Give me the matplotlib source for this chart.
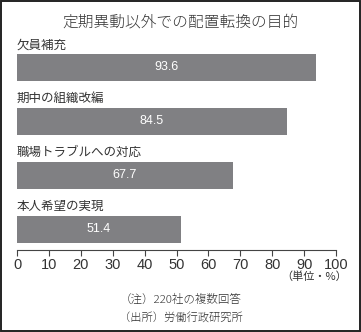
import matplotlib.pyplot as plt
from matplotlib.patches import Rectangle

categories = ['欠員補充', '期中の組織改編', '職場トラブルへの対応', '本人希望の実現']
values = [93.6, 84.5, 67.7, 51.4]
ticks = list(range(0, 101, 10))

title = '定期異動以外での配置転換の目的'
unit = '（単位・%）'
note = '（注）220社の複数回答'
source = '（出所）労働行政研究所'

jp = ['Noto Sans CJK JP', 'DejaVu Sans']
num = ['Liberation Sans', 'DejaVu Sans']
bar_color = '#808083'
text_color = '#333333'

fig = plt.figure(figsize=(3.61, 3.32), dpi=100)
fig.patches.append(Rectangle((0.004, 0.004), 0.992, 0.992, transform=fig.transFigure,
                             fill=False, edgecolor='#222222', linewidth=1.4))

ax = fig.add_axes([0.0471, 0.247, 0.8837, 0.6476])
ypos = list(range(len(categories)))
ax.barh(ypos, values, height=0.5, color=bar_color)
for y, cat, v in zip(ypos, categories, values):
    ax.text(0, y - 0.42, cat, family=jp, fontsize=9, color=text_color,
            ha='left', va='center')
    ax.text(v / 2, y, f'{v:.1f}', family=num, fontsize=9, color='white',
            ha='center', va='center')

ax.set_xlim(0, 100)
ax.set_ylim(len(categories) - 1 + 0.38, -0.6)
ax.set_xticks(ticks)
ax.set_xticklabels([str(t) for t in ticks], family=num, fontsize=10.5, color=text_color)
ax.tick_params(axis='x', length=4, width=0.8, color='#444444', pad=1.5)
ax.set_yticks([])
for side in ['top', 'right', 'left']:
    ax.spines[side].set_visible(False)
ax.spines['bottom'].set_color('#444444')
ax.spines['bottom'].set_linewidth(0.8)

fig.text(0.5, 0.934, title, family=jp, fontsize=11.3, color=text_color,
         ha='center', va='center', fontweight='light')
fig.text(0.962, 0.168, unit, family=jp, fontsize=8, color=text_color,
         ha='right', va='center')
fig.text(0.5, 0.097, note, family=jp, fontsize=8.3, color=text_color,
         ha='center', va='center', fontweight='light')
fig.text(0.5, 0.04, source, family=jp, fontsize=8.1, color=text_color,
         ha='center', va='center', fontweight='light')

fig.savefig('out.png', dpi=100)
